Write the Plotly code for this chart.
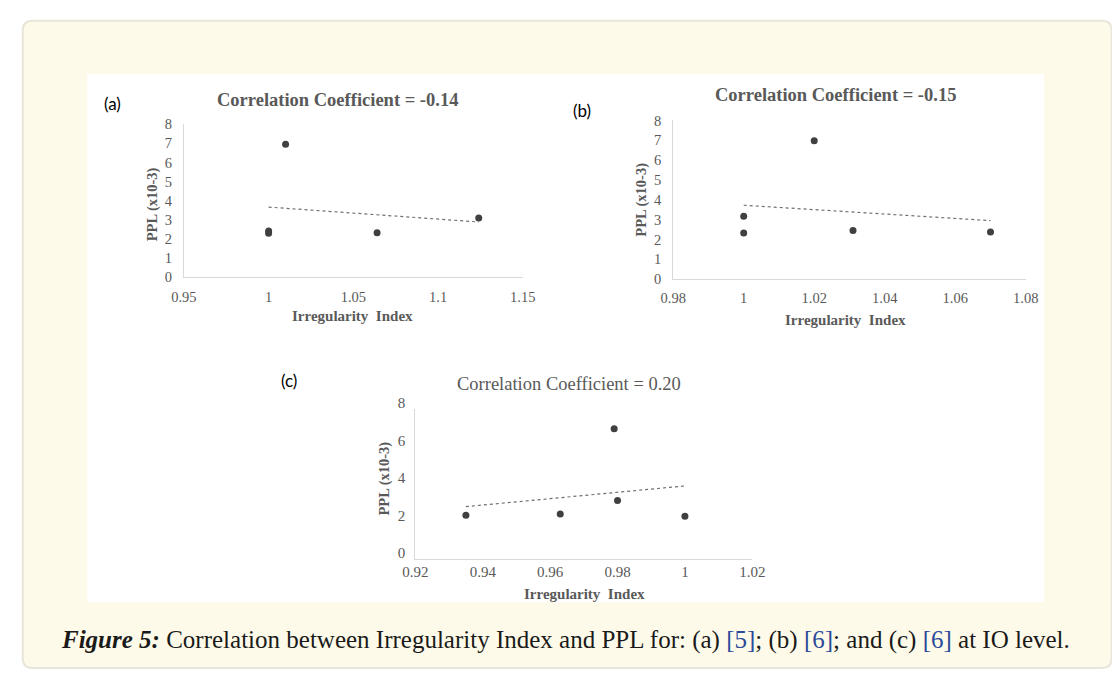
import numpy as np
import plotly.graph_objects as go

W, H = 1112, 677

# ---- data ----
a_x = [1.0, 1.0, 1.01, 1.064, 1.124]
a_y = [2.41, 2.30, 6.95, 2.33, 3.10]
b_x = [1.0, 1.0, 1.02, 1.031, 1.07]
b_y = [3.17, 2.32, 6.97, 2.45, 2.37]
c_x = [0.935, 0.963, 0.979, 0.98, 1.0]
c_y = [2.33, 2.40, 6.93, 3.12, 2.28]

a_xticks = [0.95, 1.0, 1.05, 1.1, 1.15]
a_xlabels = ["0.95", "1", "1.05", "1.1", "1.15"]
b_xticks = [0.98, 1.0, 1.02, 1.04, 1.06, 1.08]
b_xlabels = ["0.98", "1", "1.02", "1.04", "1.06", "1.08"]
c_xticks = [0.92, 0.94, 0.96, 0.98, 1.0, 1.02]
c_xlabels = ["0.92", "0.94", "0.96", "0.98", "1", "1.02"]
ab_yticks = [0, 1, 2, 3, 4, 5, 6, 7, 8]
c_yticks = [0, 2, 4, 6, 8]

titles = ["Correlation Coefficient = -0.14",
          "Correlation Coefficient = -0.15",
          "Correlation Coefficient = 0.20"]
panel_labels = ["(a)", "(b)", "(c)"]

GREY = "#595959"
MARK = "#404040"
AXL = "#d9d9d9"
SERIF = "Liberation Serif, Times New Roman, serif"


def px(x):
    return x / W


def py(y):
    return 1 - y / H


# pixel boxes of the plot areas (left, right, top, bottom)
boxes = [(175, 522, 114, 272), (676, 1037, 110, 274), (412, 757, 408, 563.5)]
tick_sizes = [14.5, 14.5, 15]
x_standoff = [6, 6, -1]
y_standoff = [8, 8, 6]
y_shift = [0, 0, -6]

fig = go.Figure()

datasets = [(a_x, a_y), (b_x, b_y), (c_x, c_y)]
for i, (xs, ys) in enumerate(datasets):
    sfx = "" if i == 0 else str(i + 1)
    k, b = np.polyfit(xs, ys, 1)
    tx = np.array([min(xs), max(xs)])
    fig.add_trace(go.Scatter(x=tx, y=k * tx + b, mode="lines",
                             line=dict(color="#6f6f6f", width=1.2, dash="dot"),
                             xaxis="x" + sfx, yaxis="y" + sfx, showlegend=False,
                             hoverinfo="skip"))
    fig.add_trace(go.Scatter(x=xs, y=ys, mode="markers",
                             marker=dict(color=MARK, size=7),
                             xaxis="x" + sfx, yaxis="y" + sfx, showlegend=False))

xtick_sets = [(a_xticks, a_xlabels), (b_xticks, b_xlabels), (c_xticks, c_xlabels)]
xranges = [[0.95, 1.15], [0.98, 1.08], [0.92, 1.02]]
ytick_sets = [ab_yticks, ab_yticks, c_yticks]

layout = dict(
    width=W, height=H, margin=dict(l=0, r=0, t=0, b=0),
    paper_bgcolor="white", plot_bgcolor="rgba(0,0,0,0)",
    showlegend=False,
)

for i in range(3):
    sfx = "" if i == 0 else str(i + 1)
    l, r, t, bt = boxes[i]
    tv, tt = xtick_sets[i]
    layout["xaxis" + sfx] = dict(
        domain=[px(l), px(r)], range=xranges[i], anchor="y" + sfx,
        tickvals=tv, ticktext=tt, showgrid=False, zeroline=False,
        showline=True, linecolor=AXL, linewidth=1, ticks="",
        ticklabelstandoff=x_standoff[i],
        tickfont=dict(family=SERIF, size=tick_sizes[i], color=GREY), fixedrange=True)
    layout["yaxis" + sfx] = dict(
        domain=[py(bt), py(t)], range=[0, 8], anchor="x" + sfx,
        tickvals=ytick_sets[i], showgrid=False, zeroline=False,
        showline=True, linecolor=AXL, linewidth=1, ticks="",
        ticklabelstandoff=y_standoff[i], ticklabelshift=y_shift[i],
        tickfont=dict(family=SERIF, size=tick_sizes[i], color=GREY), fixedrange=True)

# background panel with rounded corners + white image area
x0, y0, x1, y1, rr = 10, 7, 1125, 676, 10
path = (f"M {px(x0+rr)},{py(y0)} L {px(x1-rr)},{py(y0)} "
        f"Q {px(x1)},{py(y0)} {px(x1)},{py(y0+rr)} L {px(x1)},{py(y1-rr)} "
        f"Q {px(x1)},{py(y1)} {px(x1-rr)},{py(y1)} L {px(x0+rr)},{py(y1)} "
        f"Q {px(x0)},{py(y1)} {px(x0)},{py(y1-rr)} L {px(x0)},{py(y0+rr)} "
        f"Q {px(x0)},{py(y0)} {px(x0+rr)},{py(y0)} Z")
shapes = [
    dict(type="path", xref="paper", yref="paper", path=path,
         fillcolor="#fefae9", line=dict(color="#e8e6da", width=2), layer="below"),
    dict(type="rect", xref="paper", yref="paper", x0=px(76), x1=px(1056),
         y0=py(608), y1=py(62), fillcolor="white", line=dict(width=0), layer="below"),
    # crop edge of the first image (cuts the last tick label)
    dict(type="rect", xref="paper", yref="paper", x0=px(536), x1=px(560),
         y0=py(302), y1=py(280), fillcolor="white", line=dict(width=0), layer="above"),
]
layout["shapes"] = shapes

ann = []
title_pos = [(332, 89, True), (842, 84, True), (569, 382, False)]
for (x, y, bold), txt in zip(title_pos, titles):
    ann.append(dict(x=px(x), y=py(y), xref="paper", yref="paper", showarrow=False,
                    text=f"<b>{txt}</b>" if bold else txt,
                    font=dict(family=SERIF, size=18.5, color=GREY),
                    xanchor="center", yanchor="middle"))
label_pos = [(102, 93), (583, 100), (283, 379)]
for (x, y), txt in zip(label_pos, panel_labels):
    ann.append(dict(x=px(x), y=py(y), xref="paper", yref="paper", showarrow=False,
                    text=txt, font=dict(family="Lato, Carlito, sans-serif", size=17, color="black"),
                    xanchor="center", yanchor="middle"))
xt_pos = [(348, 312), (852, 316), (585, 599)]
for (x, y) in xt_pos:
    ann.append(dict(x=px(x), y=py(y), xref="paper", yref="paper", showarrow=False,
                    text="<b>Irregularity  Index</b>",
                    font=dict(family=SERIF, size=15, color=GREY),
                    xanchor="center", yanchor="middle"))
yt_pos = [(143, 197), (644, 192), (380, 480)]
for (x, y) in yt_pos:
    ann.append(dict(x=px(x), y=py(y), xref="paper", yref="paper", showarrow=False,
                    text="<b>PPL (x10-3)</b>", textangle=-90,
                    font=dict(family=SERIF, size=14.5, color=GREY),
                    xanchor="center", yanchor="middle"))
caption = ("<b><i>Figure 5:</i></b> Correlation between Irregularity Index and PPL for: "
           "(a) <span style='color:#2b4a9b'>[5]</span>; (b) "
           "<span style='color:#2b4a9b'>[6]</span>; and (c) "
           "<span style='color:#2b4a9b'>[6]</span> at IO level.")
ann.append(dict(x=px(566), y=py(647), xref="paper", yref="paper", showarrow=False,
                text=caption, font=dict(family=SERIF, size=25, color="#1a1a1a"),
                xanchor="center", yanchor="middle"))
layout["annotations"] = ann

fig.update_layout(**layout)
fig.write_html("out.html", config=dict(displayModeBar=False),
               post_script="document.body.style.margin='0';document.body.style.overflow='hidden';")
